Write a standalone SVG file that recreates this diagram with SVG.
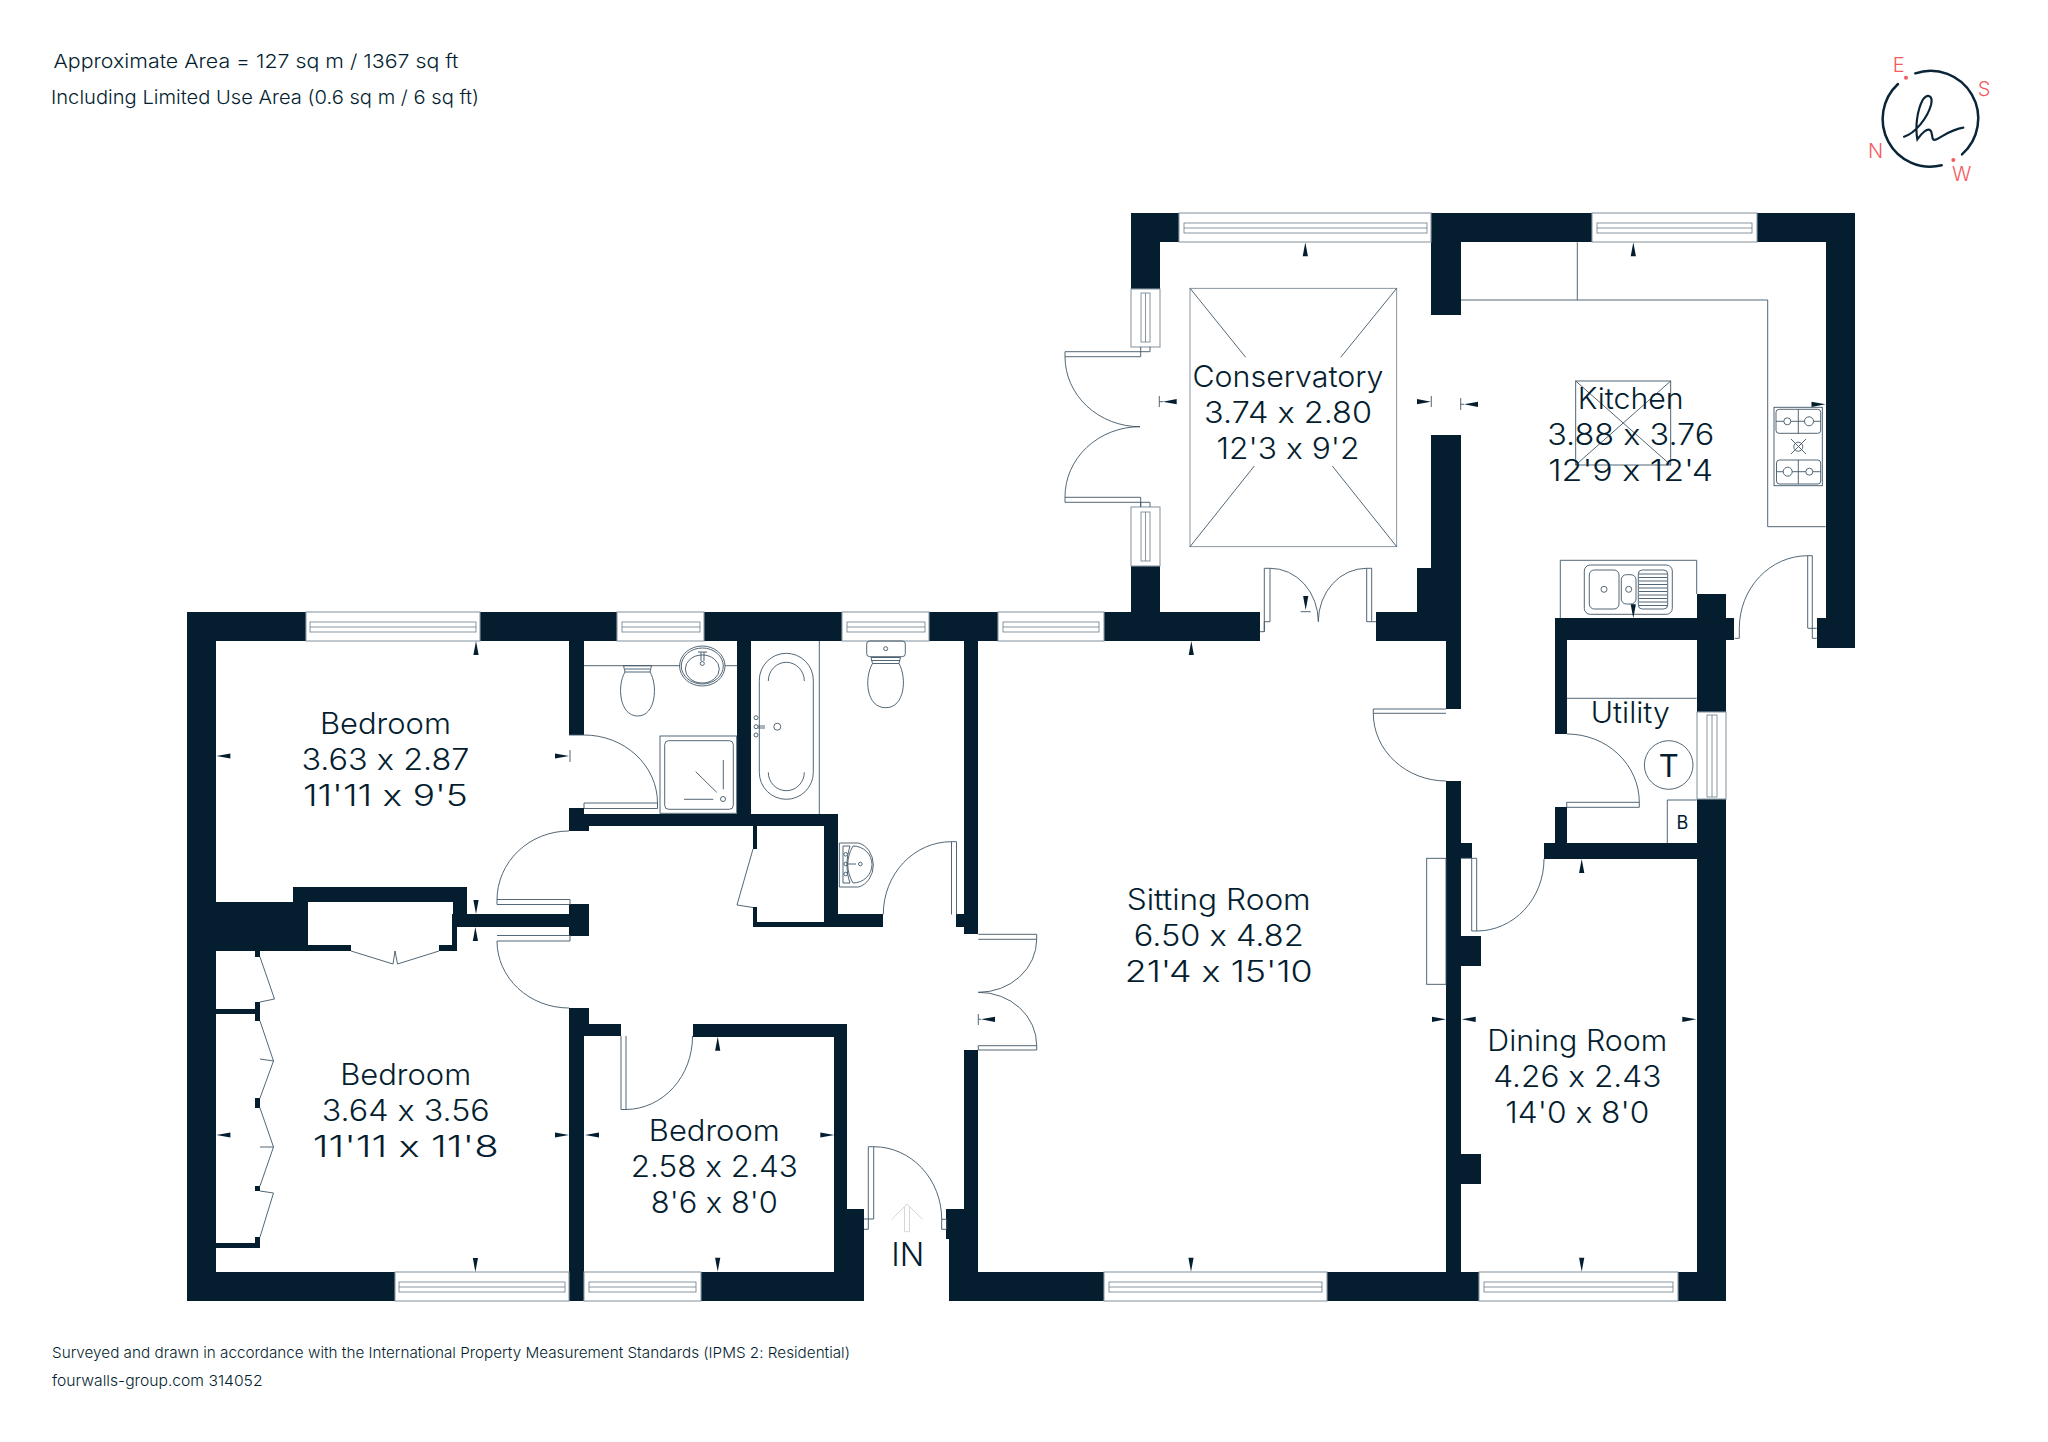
<svg xmlns="http://www.w3.org/2000/svg" width="2048" height="1442" viewBox="0 0 2048 1442">
<style>
text{font-feature-settings:"calt" 0}
.w{fill:#041e30}
.l{fill:none;stroke:#3f5667;stroke-width:.9}
.g{fill:#fff;stroke:#8c9ba6;stroke-width:1.1}
.g2{fill:none;stroke:#6a7c8a;stroke-width:.8}
.t{font-family:Inter,"Liberation Sans",sans-serif;font-weight:300;font-size:29.5px;fill:#041e30;text-anchor:middle}
.s{font-family:Inter,"Liberation Sans",sans-serif;font-weight:300;fill:#041e30}
.c{font-family:Inter,"Liberation Sans",sans-serif;font-weight:300;font-size:20px;fill:#f4595e;text-anchor:middle}
</style>
<defs>
<path id="a" class="w" d="M0,0L2.6,14H-2.6Z"/>
</defs>
<rect width="2048" height="1442" fill="#fff"/>
<g id="walls">
<path class="w" d="M187,612H306V641H187ZM480,612H617V641H480ZM704,612H842V641H704ZM929,612H998V641H929ZM1104,612H1260V641H1104ZM1376,612H1461V641H1376Z
M187,612H216V1301H187ZM187,1272H395V1301H187ZM569,641H584V735H569ZM569,808H584V831H569ZM569,814H838V826H569ZM569,826H589V831H569ZM569,904H589V936H569ZM453,914H569V927H453Z
M293,887H467V902H293ZM453,887H467V914H453ZM216,902H308V946H216ZM216,945H351V951H216ZM439,945H457V951H439ZM452,914H457V951H452Z
M216,1009H260V1014H216ZM216,1243H260V1248H216ZM255,951H260V957H255ZM255,1002H260V1021H255ZM255,1098H260V1108H255ZM255,1186H260V1191H255ZM255,1237H260V1243H255Z
M569,1008H589V1024H569ZM569,1024H621V1036H569ZM569,1024H584V1301H569ZM693,1024H847V1037H693ZM834,1024H847V1210H834ZM834,1209H864V1301H834ZM701,1272H864V1301H701Z
M949,1272H1104V1301H949ZM1327,1272H1479V1301H1327ZM1678,1272H1726V1301H1678Z
M964,641H978V934H964ZM964,1050H978V1272H964ZM946,1209H978V1239H946ZM949,1239H978V1272H949ZM737,641H751V814H737Z
M824,814H838V922H824ZM838,914H883V927H838ZM753,922H838V927H753ZM753,826H757V849H753ZM753,907H757V927H753ZM956,914H964V927H956Z
M1131,213H1179V242H1131ZM1131,213H1160V289H1131ZM1131,566H1160V612H1131ZM1431,213H1592V242H1431ZM1431,213H1461V315H1431ZM1431,435H1461V568H1431ZM1417,568H1461V612H1417ZM1446,641H1461V709H1446Z
M1757,213H1855V242H1757ZM1826,213H1855V648H1826ZM1817,618H1855V648H1817ZM1555,618H1734V640H1555ZM1697,594H1726V712H1697ZM1555,640H1567V734H1555ZM1555,807H1567V843H1555ZM1544,843H1697V859H1544ZM1697,799H1726V1301H1697Z
M1446,781H1461V1272H1446ZM1461,843H1472V858H1461ZM1461,936H1481V966H1461ZM1461,1154H1481V1184H1461Z"/>
</g>
<g id="windows">
<rect class="g" x="306" y="612" width="174" height="29"/><rect class="g2" x="310" y="622" width="166" height="10"/><path class="g2" d="M310,627H476"/>
<rect class="g" x="617" y="612" width="87" height="29"/><rect class="g2" x="622" y="622" width="78" height="10"/><path class="g2" d="M622,627H700"/>
<rect class="g" x="842" y="612" width="87" height="29"/><rect class="g2" x="847" y="622" width="78" height="10"/><path class="g2" d="M847,627H925"/>
<rect class="g" x="998" y="612" width="106" height="29"/><rect class="g2" x="1003" y="622" width="96" height="10"/><path class="g2" d="M1003,627H1099"/>
<rect class="g" x="1179" y="213" width="252" height="29"/><rect class="g2" x="1184" y="223" width="243" height="10"/><path class="g2" d="M1184,228H1427"/>
<rect class="g" x="1592" y="213" width="165" height="29"/><rect class="g2" x="1597" y="223" width="155" height="10"/><path class="g2" d="M1597,228H1752"/>
<rect class="g" x="395" y="1272" width="174" height="29"/><rect class="g2" x="399" y="1282" width="166" height="10"/><path class="g2" d="M399,1287H565"/>
<rect class="g" x="584" y="1272" width="117" height="29"/><rect class="g2" x="589" y="1282" width="107" height="10"/><path class="g2" d="M589,1287H696"/>
<rect class="g" x="1104" y="1272" width="223" height="29"/><rect class="g2" x="1109" y="1282" width="213" height="10"/><path class="g2" d="M1109,1287H1322"/>
<rect class="g" x="1479" y="1272" width="199" height="29"/><rect class="g2" x="1484" y="1282" width="189" height="10"/><path class="g2" d="M1484,1287H1673"/>
<rect class="g" x="1131" y="289" width="29" height="58"/><rect class="g2" x="1141" y="293" width="9" height="49"/><path class="g2" d="M1145.5,293V342"/>
<rect class="g" x="1131" y="507" width="29" height="59"/><rect class="g2" x="1141" y="512" width="9" height="49"/><path class="g2" d="M1145.5,512V561"/>
<rect class="g" x="1697" y="712" width="29" height="87"/><rect class="g2" x="1707" y="715" width="10" height="82"/><path class="g2" d="M1712,715V797"/>
</g>
<g id="doors">
<path class="l" d="M569,735H584A73.500,68 0 0 1 657.500,803V808.500H584V803H657.500"/>
<path class="l" d="M569,831A72,69 0 0 0 497,900V904.500H570V899.500H497"/>
<path class="l" d="M497,935.500H570V941H497A72,67 0 0 0 569,1008"/>
<path class="l" d="M621,1036V1109.500H626V1036M626,1109.500A67,73 0 0 0 692.500,1036"/>
<path class="l" d="M351,951L393,964L395,951L397.500,964L439,951"/>
<path class="l" d="M260,957L274.500,999L260,1002M260,1021L273.500,1061L260,1059M273.500,1061L260,1098M260,1108L273.500,1147L260,1147M273.500,1147L260,1186M260,1191L273.500,1193L260,1237"/>
<path class="l" d="M753,849L737,905L753,907.500"/>
<path class="l" d="M951.500,914.500V841.700H956.500V914.500M951.500,841.700A68,72.600 0 0 0 883.300,914.300"/>
<path class="l" d="M978.300,934.300H1036.700V939.300H978.300M1036.700,939.300A58,53 0 0 1 978.300,992.300A58,53 0 0 1 1036.700,1045.700V1050H978.300V1045.700H1036.700"/>
<path class="l" d="M864,1219H873.700V1146.700H868.300V1229.300H864M873.700,1146.700A68,72.600 0 0 1 941.700,1219.300V1229.300H946.700V1219.300H941.700"/>
<path class="l" d="M1150,346.700V351.700H1065V356.700H1140.700V346.700M1065,356.700A75,70 0 0 0 1140,426.700A75,70 0 0 0 1065,497.300V502.300H1140.700V507M1065,497.300H1140.700V507M1140.700,502.300H1150V507"/>
<path class="l" d="M1260,631.700H1264.300V568.300H1270V621.700H1264.300V631.700M1270,568.300A48,53.400 0 0 1 1318.300,621.700A48,53.400 0 0 1 1366.700,568.300H1371.700V621.700H1366.700V568.300M1371.700,621.700H1376"/>
<path class="l" d="M1446,709H1373.300V713.300H1446M1373.300,713.300A73,67.700 0 0 0 1446,781"/>
<path class="l" d="M1567,734A72.300,68.300 0 0 1 1639.300,802.300V807.300H1566.700V802.300H1639.300"/>
<path class="l" d="M1460.700,858.300H1476.700V931H1471.700V858.300M1476.700,931A67.300,72 0 0 0 1544,859"/>
<path class="l" d="M1807.700,628V555.700H1812.300V628.300M1807.700,555.700A68.400,72.600 0 0 0 1739.300,628.300V638.300H1734.700M1807.700,628.300H1816.700M1812.300,628.300V638.300H1816.700"/>
</g>
<g id="fixtures">
<path class="l" d="M584,665.700H680M725,665.700H737.300"/>
<path class="l" d="M623.500,665.700H651.500L650,672H625ZM625,669H650M625,672C617,685 619,716 637.700,716C656,716 658,685 650,672"/>
<ellipse class="l" cx="702.300" cy="666" rx="22.700" ry="20"/><ellipse class="l" cx="702.300" cy="666" rx="21" ry="18"/><ellipse class="l" cx="702.300" cy="669" rx="17" ry="14"/><circle class="l" cx="702.300" cy="663.500" r="2"/><path class="l" d="M698,652H707M701,652V661M704,652V661"/>
<rect class="l" x="660" y="736" width="76.700" height="77.300"/><rect class="l" x="664.700" y="740.700" width="68.600" height="68.600" rx="4"/>
<path class="l" d="M695.700,771.700L716.700,792.300M723.300,760V789.300M684,799.300H713.300"/><circle class="l" cx="723" cy="799" r="2.500"/>
<path class="l" d="M819.300,641V814"/>
<rect class="l" x="759.300" y="653.300" width="54" height="146" rx="27"/>
<path class="l" d="M768.300,681A18,18.700 0 0 1 804.300,681M768.300,772.300A18,18.400 0 0 0 804.300,772.300"/>
<circle class="l" cx="756" cy="717.700" r="2"/><circle class="l" cx="756" cy="726.700" r="2"/><circle class="l" cx="756" cy="735" r="2"/><path class="l" d="M758,726H765M758,728H765"/><circle class="l" cx="777.300" cy="726.700" r="3.500"/>
<rect class="l" x="866.700" y="641" width="38.600" height="15.700" rx="3"/><circle class="l" cx="885.700" cy="648.700" r="2"/>
<path class="l" d="M871,657.500H900.500L899,663.500H872.500ZM871.500,660.500H900M872.500,663.500C864,678 866,707.700 885.700,707.700C905,707.700 907,678 899,663.500"/>
<path class="l" d="M839.300,843H858.300A19,22.500 0 0 1 858.300,887H839.300ZM843,846H850C846,858 846,872 850,883H843Z"/>
<path class="l" d="M853,846C846,858 846,871 853,883A19,18.500 0 0 0 853,846"/>
<circle class="l" cx="845.700" cy="854.300" r="1.800"/><circle class="l" cx="845.700" cy="864" r="1.800"/><circle class="l" cx="845.700" cy="874" r="1.800"/><circle class="l" cx="860.300" cy="864" r="1.800"/><path class="l" d="M847.500,864H856"/>
<rect class="g2" x="1190" y="288.300" width="206.700" height="258.400"/>
<path class="l" d="M1190,288.300L1245.700,357.300M1396.700,288.300L1340.700,357.300M1190,546.700L1254.300,466M1396.700,546.700L1332.300,466"/>
<path class="l" d="M1461,300H1767.700V526.700H1825.700M1577.300,242.300V300"/>
<rect class="l" x="1575.700" y="381" width="95" height="84"/><path class="l" d="M1575.700,381L1670.700,465M1670.700,381L1575.700,465"/>
<rect class="l" x="1774" y="407.300" width="48.300" height="78.400"/>
<rect class="l" x="1776" y="409.300" width="44.700" height="24" rx="3"/><rect class="l" x="1776.500" y="460" width="44.200" height="24" rx="3"/>
<path class="l" d="M1798.300,409.300V433.300M1776,421.300H1820.700M1798.300,460V484M1776.500,471.700H1820.700M1791,439L1806,454M1806,439L1791,454"/>
<circle class="l" cx="1787.300" cy="421.300" r="3.500" style="fill:#fff"/><circle class="l" cx="1809" cy="421.300" r="4.500" style="fill:#fff"/><circle class="l" cx="1787.700" cy="471.700" r="4.500" style="fill:#fff"/><circle class="l" cx="1809.300" cy="471.700" r="3.500" style="fill:#fff"/><circle class="l" cx="1798.300" cy="446.700" r="4.500"/>
<path class="l" d="M1560.300,618.300V560.300H1696.700V594"/>
<rect class="l" x="1584.300" y="565" width="88" height="49.300" rx="6"/><rect class="l" x="1589.300" y="570" width="29.700" height="39" rx="5"/><rect class="l" x="1621.300" y="574.700" width="14.700" height="29.300" rx="5"/><rect class="l" x="1638.300" y="570" width="29.400" height="39" rx="4"/>
<path class="l" d="M1639,574H1667M1639,577.500H1667M1639,581H1667M1639,584.500H1667M1639,588H1667M1639,591.500H1667M1639,595H1667M1639,598.500H1667M1639,602H1667M1639,605.500H1667"/>
<circle class="l" cx="1604" cy="589.300" r="3"/><circle class="l" cx="1628.700" cy="589.300" r="3"/>
<path class="l" d="M1566.700,698.300H1696.700"/>
<circle class="l" cx="1668.700" cy="765" r="24.300"/>
<path class="l" d="M1696.700,800H1667.300V843.300"/>
<rect class="l" x="1426.700" y="858.300" width="19.300" height="126"/>
<path d="M891.700,1219.500L907,1204L922.700,1219.500M904.500,1206.500V1231.700H909.500V1206.500" fill="none" stroke="#d4d8dc" stroke-width="1"/>
</g>
<g id="marks">
<use href="#a" transform="translate(476,641)"/>
<use href="#a" transform="translate(216.400,756) rotate(270)"/>
<use href="#a" transform="translate(569,756) rotate(90)"/>
<use href="#a" transform="translate(476,914) rotate(180)"/>
<use href="#a" transform="translate(475.400,927)"/>
<use href="#a" transform="translate(216.400,1135) rotate(270)"/>
<use href="#a" transform="translate(569,1135) rotate(90)"/>
<use href="#a" transform="translate(475.400,1272) rotate(180)"/>
<use href="#a" transform="translate(717.700,1036.700)"/>
<use href="#a" transform="translate(585,1135) rotate(270)"/>
<use href="#a" transform="translate(834.300,1135) rotate(90)"/>
<use href="#a" transform="translate(717.700,1271.700) rotate(180)"/>
<use href="#a" transform="translate(981,1019.300) rotate(270)"/>
<use href="#a" transform="translate(1305.300,242.300)"/>
<use href="#a" transform="translate(1162.700,401.700) rotate(270)"/>
<use href="#a" transform="translate(1431,401.700) rotate(90)"/>
<use href="#a" transform="translate(1464,404.300) rotate(270)"/>
<use href="#a" transform="translate(1305.700,610) rotate(180)"/>
<use href="#a" transform="translate(1191.300,641)"/>
<use href="#a" transform="translate(1633.300,242.300)"/>
<use href="#a" transform="translate(1825.500,404.300) rotate(90)"/>
<use href="#a" transform="translate(1633.300,618.300) rotate(180)"/>
<use href="#a" transform="translate(1581.700,859)"/>
<use href="#a" transform="translate(1446,1019.300) rotate(90)"/>
<use href="#a" transform="translate(1461.700,1019.300) rotate(270)"/>
<use href="#a" transform="translate(1696.300,1019.300) rotate(90)"/>
<use href="#a" transform="translate(1581.700,1271.700) rotate(180)"/>
<use href="#a" transform="translate(1191,1271.700) rotate(180)"/>
<path class="l" d="M570,750V762M978.300,1014V1025M1159.300,396V407M1431.300,396V407M1460.700,398V410M1300.700,611.700H1310.700M1159.300,401.700H1163M978.300,1019.300H981M1460.700,404.300H1464"/>
</g>
<g id="labels">
<text class="t" x="385.400" y="734" textLength="131" lengthAdjust="spacingAndGlyphs">Bedroom</text>
<text class="t" x="385.400" y="770" textLength="168" lengthAdjust="spacingAndGlyphs">3.63 x 2.87</text>
<text class="t" x="385.400" y="806" textLength="165" lengthAdjust="spacingAndGlyphs">11'11 x 9'5</text>
<text class="t" x="405.700" y="1085" textLength="131" lengthAdjust="spacingAndGlyphs">Bedroom</text>
<text class="t" x="405.700" y="1120.700" textLength="168" lengthAdjust="spacingAndGlyphs">3.64 x 3.56</text>
<text class="t" x="405.700" y="1156.700" textLength="186" lengthAdjust="spacingAndGlyphs">11'11 x 11'8</text>
<text class="t" x="714.300" y="1140.700" textLength="131" lengthAdjust="spacingAndGlyphs">Bedroom</text>
<text class="t" x="714.300" y="1176.700" textLength="167" lengthAdjust="spacingAndGlyphs">2.58 x 2.43</text>
<text class="t" x="714.300" y="1212.700" textLength="127" lengthAdjust="spacingAndGlyphs">8'6 x 8'0</text>
<text class="t" x="1288" y="387.300" textLength="191" lengthAdjust="spacingAndGlyphs">Conservatory</text>
<text class="t" x="1288" y="422.700" textLength="168" lengthAdjust="spacingAndGlyphs">3.74 x 2.80</text>
<text class="t" x="1288" y="458.700" textLength="143" lengthAdjust="spacingAndGlyphs">12'3 x 9'2</text>
<text class="t" x="1630.700" y="409" textLength="106" lengthAdjust="spacingAndGlyphs">Kitchen</text>
<text class="t" x="1630.700" y="445" textLength="167" lengthAdjust="spacingAndGlyphs">3.88 x 3.76</text>
<text class="t" x="1630.700" y="481" textLength="165" lengthAdjust="spacingAndGlyphs">12'9 x 12'4</text>
<text class="t" x="1218.700" y="910" textLength="184" lengthAdjust="spacingAndGlyphs">Sitting Room</text>
<text class="t" x="1218.700" y="945.700" textLength="170" lengthAdjust="spacingAndGlyphs">6.50 x 4.82</text>
<text class="t" x="1218.700" y="982" textLength="188" lengthAdjust="spacingAndGlyphs">21'4 x 15'10</text>
<text class="t" x="1577.300" y="1051" textLength="180" lengthAdjust="spacingAndGlyphs">Dining Room</text>
<text class="t" x="1577.300" y="1086.700" textLength="168" lengthAdjust="spacingAndGlyphs">4.26 x 2.43</text>
<text class="t" x="1577.300" y="1122.700" textLength="144" lengthAdjust="spacingAndGlyphs">14'0 x 8'0</text>
<text class="t" x="1630.300" y="723.300" textLength="79" lengthAdjust="spacingAndGlyphs">Utility</text>
<text class="t" x="907.700" y="1266" style="font-size:32px" textLength="33" lengthAdjust="spacingAndGlyphs">IN</text>
<text class="t" x="1668.700" y="776.700" style="font-size:31px;font-weight:400">T</text>
<text class="t" x="1682.300" y="829" style="font-size:18px;font-weight:400">B</text>
<text class="s" x="53.500" y="68" font-size="19" textLength="405" lengthAdjust="spacingAndGlyphs">Approximate Area = 127 sq m / 1367 sq ft</text>
<text class="s" x="51" y="104" font-size="19" textLength="428" lengthAdjust="spacingAndGlyphs">Including Limited Use Area (0.6 sq m / 6 sq ft)</text>
<text class="s" x="52" y="1358" font-size="15" textLength="798" lengthAdjust="spacingAndGlyphs">Surveyed and drawn in accordance with the International Property Measurement Standards (IPMS 2: Residential)</text>
<text class="s" x="52" y="1386" font-size="15" textLength="210.500" lengthAdjust="spacingAndGlyphs">fourwalls-group.com 314052</text>
</g>
<g id="logo">
<g transform="translate(1840,40) scale(.33333)" fill="none" stroke="#0a2438" stroke-linecap="round">
<path stroke-width="7.500" d="M226,100A143,143 0 0 1 366,343M305,376A143,143 0 0 1 174,132"/>
<path stroke-width="6.500" d="M192,290C225,280 262,235 273,195C280,165 262,160 248,180C232,210 225,260 232,298C245,280 262,262 272,272C280,285 272,305 290,298C315,285 335,268 370,263"/>
</g>
<circle cx="1906" cy="77.700" r="2" fill="#f4595e"/><circle cx="1953.300" cy="160" r="2" fill="#f4595e"/>
<text class="c" x="1898.700" y="72">E</text><text class="c" x="1984" y="96">S</text><text class="c" x="1875.700" y="158">N</text><text class="c" x="1961.700" y="181">W</text>
</g>
</svg>
